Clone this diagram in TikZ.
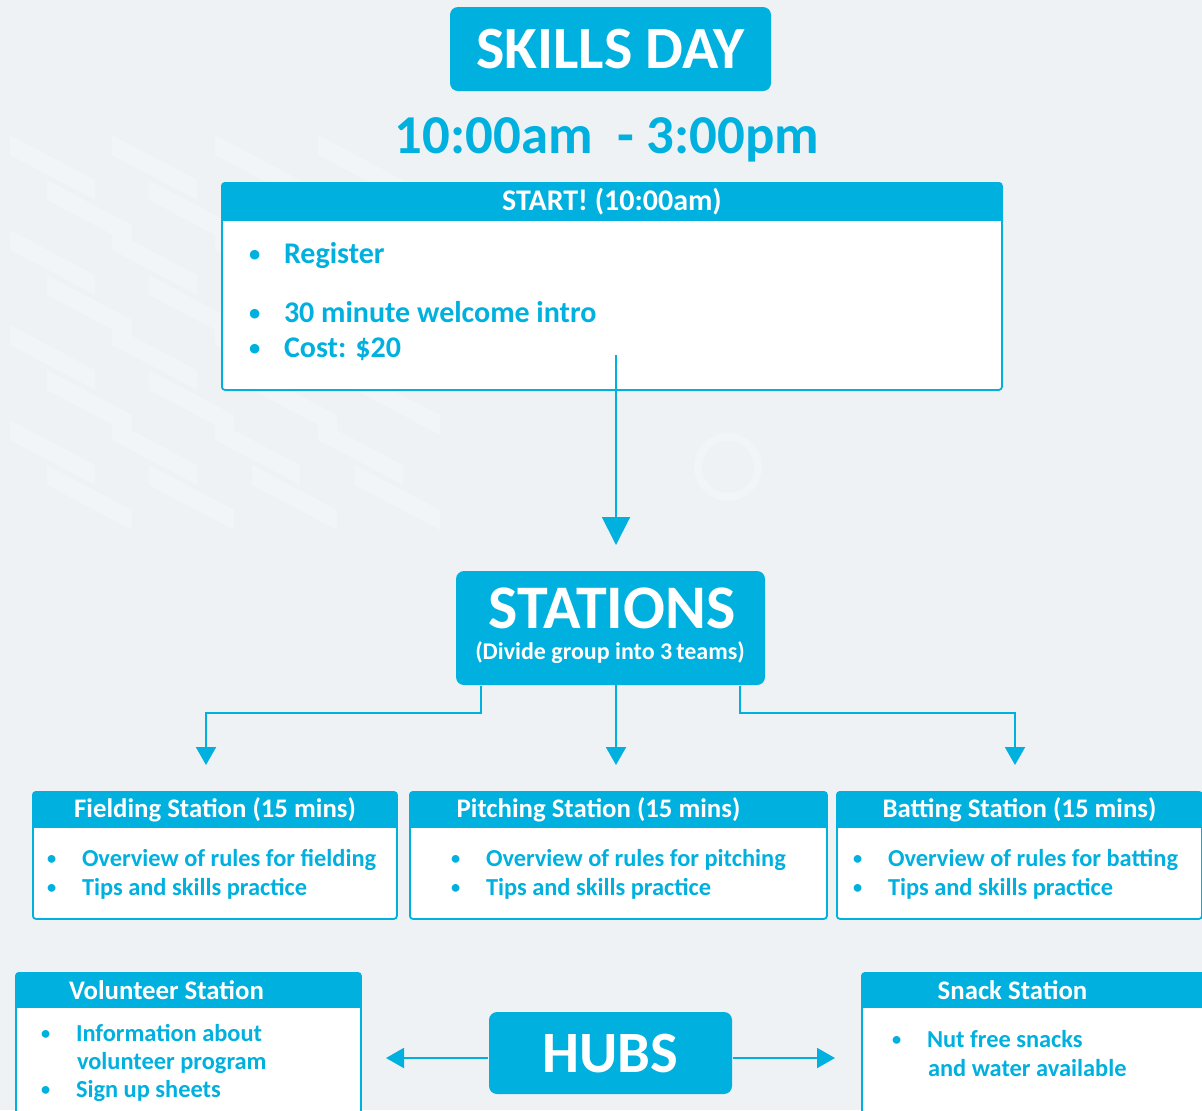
\documentclass[tikz,border=0pt]{standalone}
\usepackage{fontspec}
\setmainfont{Carlito}
\usetikzlibrary{positioning,arrows.meta}
\definecolor{skyblue}{HTML}{00B0DE}
\definecolor{paper}{HTML}{EEF2F5}
\definecolor{ghost}{HTML}{F2F5F8}

\newcommand{\bul}[1]{\makebox[17.5pt][l]{\raisebox{0.6pt}{\scalebox{0.75}{\textbullet}}}#1}

\begin{document}
\begin{tikzpicture}[x=0.5pt,y=-0.5pt,line width=1pt,
   big/.style={fill=skyblue,text=white,rounded corners=4pt,inner sep=0pt,
     font=\bfseries\fontsize{30}{32}\selectfont},
   panel/.style={draw=skyblue,line width=0.9pt,fill=white,rounded corners=1.5pt,
     anchor=north west,inner sep=0pt},
   banner/.style={fill=skyblue,text=white,anchor=north west,inner sep=0pt,
     font=\bfseries\fontsize{13.4}{15}\selectfont},
   item/.style={anchor=base west,text=skyblue,inner sep=0pt,
     font=\bfseries\fontsize{12.2}{14}\selectfont},
   bigitem/.style={item,font=\bfseries\fontsize{15}{17}\selectfont},
   smallitem/.style={item,font=\bfseries\fontsize{12.2}{14}\selectfont},
   link/.style={draw=skyblue,line width=1pt},
   wide tip/.style={-{Triangle[length=14pt,width=14pt]}},
   small tip/.style={-{Triangle[length=9pt,width=10pt]}}]

  % background
  \useasboundingbox (0,0) rectangle (1202,1110);
  \clip (0,0) rectangle (1202,1110);
  \fill[paper] (0,0) rectangle (1202,1110);
  \foreach \bx in {10,112,215,318}
    \foreach \by in {135,230,325,420}
      {\fill[ghost] (\bx,\by) -- ++(85,45) -- ++(0,20) -- ++(-85,-45) -- cycle;
       \fill[ghost] (\bx+37,\by+45) -- ++(85,45) -- ++(0,20) -- ++(-85,-45) -- cycle;}
  \draw[ghost,line width=4pt] (728,467) circle (30);

  % title
  \node[big,minimum width=160.5pt,minimum height=42pt] (title) at (610.5,49) {SKILLS DAY};
  \node[text=skyblue,font=\bfseries\fontsize{27.4}{30}\selectfont] (time) at (607,140) {10:00am\ \ -\ 3:00pm};

  % start
  \node[panel,minimum width=390pt,minimum height=103.5pt] (start) at (221,182) {};
  \node[banner,minimum width=390pt,minimum height=19pt,font=\bfseries\fontsize{15}{17}\selectfont] (starthead) at (start.north west) {START! (10:00am)};
  \node[bigitem] (reg) at (248,263) {\bul{Register}};
  \node[bigitem] (intro) at (248,322) {\bul{30 minute welcome intro}};
  \node[bigitem] (cost) at (248,357) {\bul{Cost: \$20}};
  \coordinate (startfoot) at (616,355);

  % stations
  \node[big,minimum width=154.5pt,minimum height=57pt] (stations) at (610.5,628) {};
  \node[text=white,font=\bfseries\fontsize{31}{33}\selectfont] (stitle) at (612,608) {STATIONS};
  \node[text=white,font=\bfseries\fontsize{12}{14}\selectfont] (ssub) at (610,653) {(Divide group into 3\,teams)};

  \node[panel,minimum width=182pt,minimum height=63.5pt] (field) at (32,791) {};
  \node[banner,minimum width=182pt,minimum height=18pt] (fieldhead) at (field.north west) {Fielding Station (15 mins)};
  \node[item] at (46,866) {\bul{Overview of rules for fielding}};
  \node[item] at (46,895) {\bul{Tips and skills practice}};

  \node[panel,minimum width=208.5pt,minimum height=63.5pt] (pitch) at (409,791) {};
  \node[banner,minimum width=208.5pt,minimum height=18pt] (pitchhead) at (pitch.north west) {\hspace*{-20pt}Pitching Station (15 mins)};
  \node[item] at (450,866) {\bul{Overview of rules for pitching}};
  \node[item] at (450,895) {\bul{Tips and skills practice}};

  \node[panel,minimum width=182.5pt,minimum height=63.5pt] (bat) at (836,791) {};
  \node[banner,minimum width=182.5pt,minimum height=18pt] (bathead) at (bat.north west) {Batting Station (15 mins)};
  \node[item] at (852,866) {\bul{Overview of rules for batting}};
  \node[item] at (852,895) {\bul{Tips and skills practice}};

  \coordinate (forkl) at (206,765);
  \coordinate (forkm) at (616,765);
  \coordinate (forkr) at (1015,765);

  % hubs
  \node[big,minimum width=121.5pt,minimum height=41pt,font=\bfseries\fontsize{29.3}{31}\selectfont] (hubs) at (610.5,1053) {HUBS};

  \node[panel,minimum width=172.5pt,minimum height=80pt] (vol) at (15,972) {};
  \node[banner,minimum width=172.5pt,minimum height=17.5pt] (volhead) at (vol.north west) {\hspace*{-22pt}Volunteer Station};
  \node[smallitem] at (40,1041) {\bul{Information\ about}};
  \node[smallitem] at (76,1069) {volunteer\ program};
  \node[smallitem] at (40,1097) {\bul{Sign up sheets}};

  \node[panel,minimum width=172.5pt,minimum height=80pt] (snack) at (861,972) {};
  \node[banner,minimum width=172.5pt,minimum height=17.5pt] (snackhead) at (snack.north west) {\hspace*{-22pt}Snack Station};
  \node[smallitem] at (891,1047) {\bul{Nut free snacks}};
  \node[smallitem] at (927,1076) {and water available};

  \coordinate (hubl) at (386,1058);
  \coordinate (hubr) at (835,1058);

  % connectors
  \draw[link,wide tip] (startfoot) -- (616,545);
  \draw[link,small tip] ([xshift=13pt]stations.south west) -- ++(0,27) -| (forkl);
  \draw[link,small tip] (616,685) -- (forkm);
  \draw[link,small tip] ([xshift=-13pt]stations.south east) -- ++(0,27) -| (forkr);
  \foreach \from/\to in {hubs.west/hubl,hubs.east/hubr} \draw[link,small tip] ([yshift=-2.5pt]\from) -- (\to);
\end{tikzpicture}
\end{document}
